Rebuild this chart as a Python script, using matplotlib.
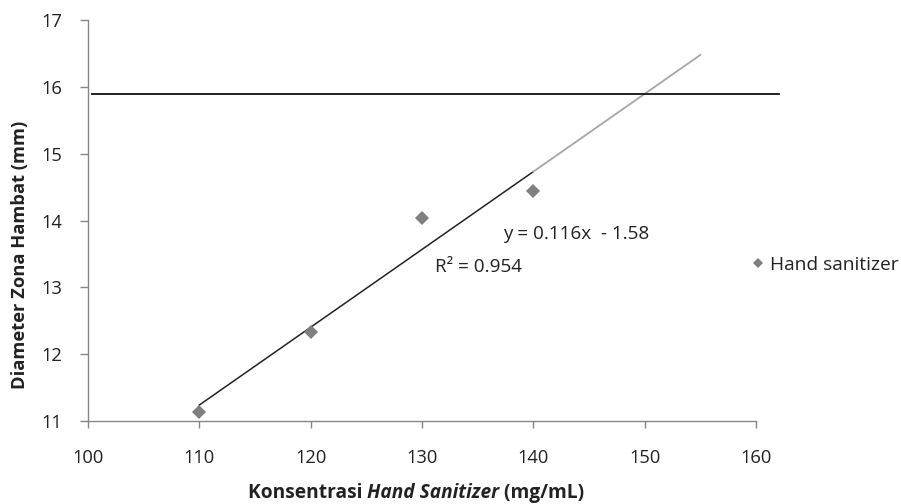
import numpy as np
import matplotlib
matplotlib.use("Agg")
import matplotlib.pyplot as plt
from matplotlib.offsetbox import TextArea, HPacker, AnnotationBbox
from matplotlib.lines import Line2D

# Data
konsentrasi = [110, 120, 130, 140]
diameter = [11.13, 12.33, 14.04, 14.44]
batas_y = 15.89
garis_x = [100.4, 162.1]
forecast_to = 155
x_ticks = [100, 110, 120, 130, 140, 150, 160]
y_ticks = [11, 12, 13, 14, 15, 16, 17]
eq_text = "y = 0.116x  - 1.58"
r2_text = "R² = 0.954"
series_name = "Hand sanitizer"

plt.rcParams['font.family'] = ['Open Sans', 'DejaVu Sans']

fig = plt.figure(figsize=(9.01, 5.04), dpi=100)
ax = fig.add_axes([88/901, 1-421/504, (756-88)/901, (421-20)/504])

axis_col = '#868686'
grey = '#7f7f7f'
txt = '#222222'

# Trendline from least squares fit
slope, intercept = np.polyfit(konsentrasi, diameter, 1)
xa = np.array([konsentrasi[0], konsentrasi[-1]])
ax.plot(xa, slope*xa + intercept, color='#222222', lw=1.1, zorder=2)
xb = np.array([konsentrasi[-1], forecast_to])
ax.plot(xb, slope*xb + intercept, color='#a6a6a6', lw=1.3, zorder=2)

# Horizontal line
ax.plot(garis_x, [batas_y, batas_y], color='#111111', lw=1.3, clip_on=False, zorder=3)

# Points
ax.plot(konsentrasi, diameter, linestyle='none', marker='D', ms=7.6,
        color=grey, markeredgewidth=0, zorder=4, clip_on=False)

ax.set_xlim(100, 160)
ax.set_ylim(11, 17)
ax.set_xticks(x_ticks)
ax.set_yticks(y_ticks)
for s in ['top', 'right']:
    ax.spines[s].set_visible(False)
for s in ['left', 'bottom']:
    ax.spines[s].set_color(axis_col)
    ax.spines[s].set_linewidth(1.0)
ax.tick_params(axis='x', direction='out', length=5, width=1, color=axis_col,
               labelsize=13.2, labelcolor=txt, pad=15)
ax.tick_params(axis='y', direction='out', length=5.8, width=1, color=axis_col,
               labelsize=13.2, labelcolor=txt, pad=13)

# Annotations
fig.text(503/901, 1-234/504, eq_text, fontsize=13.6,
         ha='left', va='center', color=txt)
fig.text(435/901, 1-267/504, r2_text, fontsize=13.6,
         ha='left', va='center', color=txt)

# Y label
fig.text(20/901, 1-255/504, "Diameter Zona Hambat (mm)", rotation=90,
         fontsize=13.2, fontweight='bold', ha='center', va='center', color=txt)

# X label with italic part
bold = dict(fontsize=13.8, fontweight='bold', color=txt)
bolditalic = dict(fontsize=13.8, fontweight='bold', fontstyle='italic', color=txt)
pack = HPacker(children=[TextArea("Konsentrasi ", textprops=bold),
                         TextArea("Hand Sanitizer", textprops=bolditalic),
                         TextArea(" (mg/mL)", textprops=bold)],
               align='baseline', pad=0, sep=0)
ab = AnnotationBbox(pack, (416/901, 1-493/504), xycoords='figure fraction',
                    frameon=False, box_alignment=(0.5, 0.5))
fig.add_artist(ab)

# Legend
handle = Line2D([], [], linestyle='none', marker='D', ms=5.5, color=grey, markeredgewidth=0)
leg = fig.legend([handle], [series_name], loc='center left',
                 bbox_to_anchor=(753/901, 1-265/504), frameon=False,
                 fontsize=13.8, handlelength=0.5, handletextpad=0.4,
                 borderpad=0, borderaxespad=0, labelcolor=txt)

fig.savefig("out.png", dpi=100)
